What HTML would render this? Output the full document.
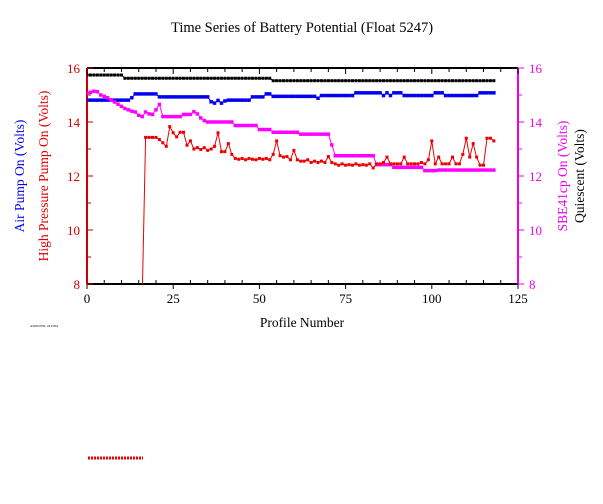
<!DOCTYPE html>
<html><head><meta charset="utf-8"><style>
html,body{margin:0;padding:0;background:#fff;}
svg{display:block;font-family:"Liberation Serif",serif;}
</style></head><body>
<svg id="chart" width="603" height="504" viewBox="0 0 603 504" xmlns="http://www.w3.org/2000/svg">
<text x="302" y="32" text-anchor="middle" font-size="14.5">Time Series of Battery Potential (Float 5247)</text>
<text x="302" y="327" text-anchor="middle" font-size="13.5">Profile Number</text>
<text transform="translate(24,176) rotate(-90)" text-anchor="middle" font-size="13.5" fill="#0000ee">Air Pump On (Volts)</text>
<text transform="translate(48,176) rotate(-90)" text-anchor="middle" font-size="13.5" fill="#dd0000">High Pressure Pump On (Volts)</text>
<text transform="translate(567,176) rotate(-90)" text-anchor="middle" font-size="13.5" fill="#ee00ee">SBE41cp On (Volts)</text>
<text transform="translate(584,176) rotate(-90)" text-anchor="middle" font-size="13.5" fill="#000">Quiescent (Volts)</text>
<text x="30" y="327" font-size="3.5" fill="#000">AS002Y0L 24Y004</text>
<line x1="88" y1="458" x2="143" y2="458" stroke="#ee0000" stroke-width="3" stroke-dasharray="2,1"/>
<g id="axes"></g>
<g id="series"></g>
</svg>
<script>
const xTicks=[0,25,50,75,100,125];
const yTicks=[8,10,12,14,16];
const blackVals=[15.74,15.74,15.74,15.74,15.74,15.74,15.74,15.74,15.74,15.74,
15.74,15.62,15.62,15.62,15.62,15.62,15.62,15.62,15.62,15.62,
15.62,15.62,15.62,15.62,15.62,15.62,15.62,15.62,15.62,15.62,
15.62,15.62,15.62,15.62,15.62,15.62,15.62,15.62,15.62,15.62,
15.62,15.62,15.62,15.62,15.62,15.62,15.62,15.62,15.62,15.62,
15.62,15.62,15.62,15.62,15.53,15.53,15.53,15.53,15.53,15.53,
15.53,15.53,15.53,15.53,15.53,15.53,15.53,15.53,15.53,15.53,
15.53,15.53,15.53,15.53,15.53,15.53,15.53,15.53,15.53,15.53,
15.53,15.53,15.53,15.53,15.53,15.53,15.53,15.53,15.53,15.53,
15.53,15.53,15.53,15.53,15.53,15.53,15.53,15.53,15.53,15.53,
15.53,15.53,15.53,15.53,15.53,15.53,15.53,15.53,15.53,15.53,
15.53,15.53,15.53,15.53,15.53,15.53,15.53,15.53,15.53];
const blueVals=[14.81,14.81,14.81,14.81,14.81,14.81,14.81,14.81,14.81,14.81,
14.81,14.81,14.81,14.9,15.04,15.04,15.04,15.04,15.04,15.04,
15.04,14.93,14.93,14.93,14.93,14.93,14.93,14.93,14.93,14.93,
14.93,14.93,14.93,14.93,14.93,14.93,14.75,14.7,14.8,14.7,
14.78,14.81,14.81,14.81,14.81,14.81,14.81,14.81,14.93,14.93,
14.93,14.93,15.04,15.04,14.95,14.95,14.95,14.95,14.95,14.95,
14.95,14.95,14.95,14.95,14.95,14.95,14.95,14.88,14.98,14.98,
14.98,14.98,14.98,14.98,14.98,14.98,14.98,14.98,15.08,15.08,
15.08,15.08,15.08,15.08,15.08,15.08,14.98,15.08,14.98,15.08,
15.08,15.08,14.98,14.98,14.98,14.98,14.98,14.98,14.98,14.98,
14.98,15.08,15.08,15.08,14.98,14.98,14.98,14.98,14.98,14.98,
14.98,14.98,14.98,14.98,15.08,15.08,15.08,15.08,15.08];
const magentaVals=[15.06,15.1,15.14,15.12,15.0,14.95,14.9,14.82,14.74,14.66,
14.58,14.5,14.45,14.4,14.37,14.25,14.2,14.37,14.3,14.28,
14.45,14.65,14.2,14.2,14.2,14.2,14.2,14.2,14.28,14.28,
14.28,14.38,14.3,14.15,14.05,14.0,14.0,14.0,14.0,14.0,
14.0,14.0,14.0,13.87,13.87,13.87,13.87,13.87,13.87,13.87,
13.72,13.72,13.72,13.72,13.62,13.62,13.62,13.62,13.62,13.62,
13.62,13.62,13.55,13.55,13.55,13.55,13.55,13.55,13.55,13.55,
13.55,13.15,12.75,12.75,12.75,12.75,12.75,12.75,12.75,12.75,
12.75,12.75,12.75,12.75,12.42,12.42,12.42,12.42,12.42,12.32,
12.32,12.32,12.32,12.32,12.32,12.32,12.32,12.32,12.2,12.2,
12.2,12.2,12.22,12.22,12.22,12.22,12.22,12.22,12.22,12.22,
12.22,12.22,12.22,12.22,12.22,12.22,12.22,12.22,12.22];
const redVals=[null,null,null,null,null,null,null,null,null,null,
null,null,null,null,null,null,7.5,13.43,13.43,13.43,
13.43,13.35,13.23,13.1,13.83,13.6,13.45,13.62,13.62,13.14,
13.3,13.0,13.05,12.98,13.05,12.95,13.0,13.1,13.6,12.9,
12.9,13.2,12.8,12.65,12.62,12.65,12.6,12.65,12.62,12.6,
12.65,12.62,12.65,12.6,12.8,13.3,12.75,12.7,12.72,12.6,
12.95,12.6,12.55,12.55,12.6,12.5,12.55,12.5,12.55,12.5,
12.72,12.5,12.45,12.4,12.45,12.4,12.42,12.4,12.45,12.4,
12.42,12.4,12.45,12.3,12.45,12.45,12.5,12.7,12.45,12.45,
12.45,12.45,12.7,12.45,12.45,12.45,12.45,12.5,12.45,12.6,
13.3,12.45,12.7,12.45,12.45,12.45,12.7,12.45,12.45,12.8,
13.4,12.7,13.2,12.7,12.4,12.4,13.4,13.4,13.3];

const X0=87,X1=518,Y0=284,Y1=68;
function xs(v){return X0+(v-0)/(125-0)*(X1-X0);}
function ys(v){return Y0-(v-8)/(16-8)*(Y0-Y1);}
const NS="http://www.w3.org/2000/svg";
function mk(tag,attrs,parent){const e=document.createElementNS(NS,tag);for(const k in attrs)e.setAttribute(k,attrs[k]);parent.appendChild(e);return e;}
const axes=document.getElementById('axes');
const series=document.getElementById('series');

// frame
let e;
e=mk('line',{x1:X0,y1:Y0,x2:X1,y2:Y0,stroke:'#000','stroke-width':2},axes);


e=mk('line',{x1:X0,y1:Y1,x2:X1,y2:Y1,stroke:'#000','stroke-width':2},axes);


e=mk('line',{x1:X0,y1:Y1,x2:X0,y2:Y0,stroke:'#cc0000','stroke-width':2},axes);


e=mk('line',{x1:X1,y1:Y1,x2:X1,y2:Y0,stroke:'#ee00ee','stroke-width':2},axes);



for(let v=0;v<=125;v+=5){
  const x=xs(v);const major=v%25===0;
  e=mk('line',{x1:x,y1:Y0,x2:x,y2:major?Y0+5:Y0-4,stroke:'#000','stroke-width':1},axes);
  
  
  e=mk('line',{x1:x,y1:Y1,x2:x,y2:Y1+(major?6:4),stroke:'#000','stroke-width':1},axes);
  
  
}
xTicks.forEach(v=>{
  const t=mk('text',{x:xs(v),y:Y0+19,'text-anchor':'middle','font-size':13},axes);
  t.textContent=v;
  
  
});
for(let v=8;v<=16;v+=1){
  const y=ys(v);const major=v%2===0;
  e=mk('line',{x1:X0,y1:y,x2:X0+(major?6:4),y2:y,stroke:'#cc0000','stroke-width':1},axes);
  
  
  e=mk('line',{x1:X1,y1:y,x2:X1+(major?6:4),y2:y,stroke:'#ee00ee','stroke-width':1},axes);
  
  
}
yTicks.forEach(v=>{
  let t=mk('text',{x:X0-7,y:ys(v)+5,'text-anchor':'end','font-size':13,fill:'#cc0000'},axes);
  t.textContent=v;
  
  
  t=mk('text',{x:X1+11,y:ys(v)+5,'text-anchor':'start','font-size':13,fill:'#ee00ee'},axes);
  t.textContent=v;
  
  
});

mk('clipPath',{id:'clip'},series).appendChild(Object.assign(document.createElementNS(NS,'rect'),{}));
const cr=series.querySelector('clipPath rect');
cr.setAttribute('x',X0);cr.setAttribute('y',Y1);cr.setAttribute('width',X1-X0);cr.setAttribute('height',Y0-Y1);

function drawSeries(vals,color,name,ms){
  const g=mk('g',{'clip-path':'url(#clip)'},series);
  
  
  let d='';let started=false;
  vals.forEach((v,i)=>{
    if(v===null){started=false;return;}
    d+=(started?'L':'M')+xs(i).toFixed(1)+','+ys(v).toFixed(1);started=true;
  });
  const p=mk('path',{d:d,fill:'none',stroke:color,'stroke-width':1},g);
  
  
  vals.forEach((v,i)=>{
    if(v===null)return;
    const r=mk('rect',{x:xs(i)-ms/2,y:ys(v)-ms/2,width:ms,height:ms,fill:color},g);
    
    
  });
}
drawSeries(blackVals,'#000000','quiescent-series',3);
drawSeries(blueVals,'#0000ee','air-pump-series',3.5);
drawSeries(magentaVals,'#ff00ff','sbe41cp-series',3.5);
drawSeries(redVals,'#ee0000','hp-pump-series',3);
</script>
</body></html>
